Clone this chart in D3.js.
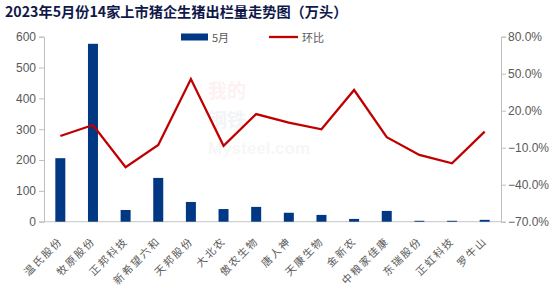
<!DOCTYPE html>
<html><head><meta charset="utf-8">
<script src="https://cdn.jsdelivr.net/npm/d3@7"></script>
<style>body{margin:0;background:#fff;}svg{display:block;font-family:"Liberation Sans",Arial,sans-serif;}</style>
</head><body><svg id="c" width="554" height="296"></svg>
<script>
const categories = ["温氏股份","牧原股份","正邦科技","新希望六和","天邦股份","大北农","傲农生物","唐人神","天康生物","金新农","中粮家佳康","东瑞股份","正虹科技","罗牛山"];
const mayValues = [206, 577, 38, 142, 64, 41, 48, 29, 22, 9, 35, 3, 3, 6];
const momValues = [-0.5, 8.4, -25.9, -7.8, 45.7, -8.4, 17.3, 10.3, 4.9, 36.8, -1.5, -15.9, -22.6, 3.0];
const leftTicks = [0,100,200,300,400,500,600];
const rightTicks = [-70,-40,-10,20,50,80];
const seriesNames = ["5月","环比"];
const title = "2023年5月份14家上市猪企生猪出栏量走势图（万头）";

const svg = d3.select("#c");
const L = 44, R = 501, T = 36.7, B = 221.7;
const x = d3.scaleBand().domain(categories).range([L, R]);
const yL = d3.scaleLinear().domain([0,600]).range([B, T]);
const yR = d3.scaleLinear().domain([-70,80]).range([B, T]);

// faint watermark
const wm = svg.append("g").attr("opacity",0.05).attr("font-family","'Noto Sans CJK SC',sans-serif").attr("font-weight","bold");
wm.append("text").attr("x",208).attr("y",98).attr("font-size",19).attr("fill","#d00").text("我的");
wm.append("text").attr("x",208).attr("y",127).attr("font-size",19).attr("fill","#1a3a8a").text("钢铁");
wm.append("text").attr("x",208).attr("y",154).attr("font-size",17).attr("fill","#666").attr("font-family","Arial").text("Mysteel.com");

// title
svg.append("text").attr("x",5).attr("y",17).attr("font-size",14.2).attr("font-weight","bold")
  .attr("fill","#10184a").attr("font-family","'Noto Sans CJK SC',sans-serif").text(title);

// left axis
const gL = svg.append("g").attr("transform",`translate(${L},0)`)
  .call(d3.axisLeft(yL).tickValues(leftTicks).tickSize(5).tickPadding(3));
// right axis
const gR = svg.append("g").attr("transform",`translate(${R},0)`)
  .call(d3.axisRight(yR).tickValues(rightTicks).tickSize(5).tickPadding(2).tickFormat(d=>d3.format(".1f")(d)+"%"));
[gL,gR].forEach(g=>{
  g.select(".domain").attr("stroke","#bfbfbf");
  g.selectAll(".tick line").attr("stroke","#bfbfbf");
  g.selectAll("text").attr("fill","#595959").attr("font-size",12).attr("font-family","'Liberation Sans',Arial,sans-serif");
});
// bottom axis line
svg.append("line").attr("x1",L-5).attr("x2",R).attr("y1",B).attr("y2",B).attr("stroke","#d0d0d0").attr("stroke-width",1.2);

// bars
const bw = 10;
svg.append("g").selectAll("rect").data(mayValues).join("rect")
  .attr("x",(d,i)=>x(categories[i])+x.bandwidth()/2-bw/2)
  .attr("width",bw)
  .attr("y",d=>yL(d))
  .attr("height",d=>B-yL(d))
  .attr("fill","#003883");

// line
const line = d3.line().x((d,i)=>x(categories[i])+x.bandwidth()/2).y(d=>yR(d));
svg.append("path").datum(momValues).attr("d",line).attr("fill","none")
  .attr("stroke","#c00000").attr("stroke-width",2.3).attr("stroke-linejoin","miter");

// category labels
svg.append("g").selectAll("text").data(categories).join("text")
  .attr("transform",d=>`translate(${x(d)+x.bandwidth()/2+3},${B+20}) rotate(-45)`)
  .attr("text-anchor","end").attr("font-size",10.5).attr("fill","#595959")
  .attr("font-family","'Noto Sans CJK SC',sans-serif")
  .attr("letter-spacing",1.8)
  .text(d=>d);

// legend
const lg = svg.append("g");
lg.append("rect").attr("x",181).attr("y",33.5).attr("width",27).attr("height",7).attr("fill","#003883");
lg.append("text").attr("x",212).attr("y",41.5).attr("font-size",11).attr("fill","#595959").attr("font-family","'Noto Sans CJK SC',sans-serif").text(seriesNames[0]);
lg.append("line").attr("x1",269).attr("x2",298).attr("y1",37).attr("y2",37).attr("stroke","#c00000").attr("stroke-width",2.3);
lg.append("text").attr("x",302).attr("y",41.5).attr("font-size",11).attr("fill","#595959").attr("font-family","'Noto Sans CJK SC',sans-serif").text(seriesNames[1]);
</script></body></html>
